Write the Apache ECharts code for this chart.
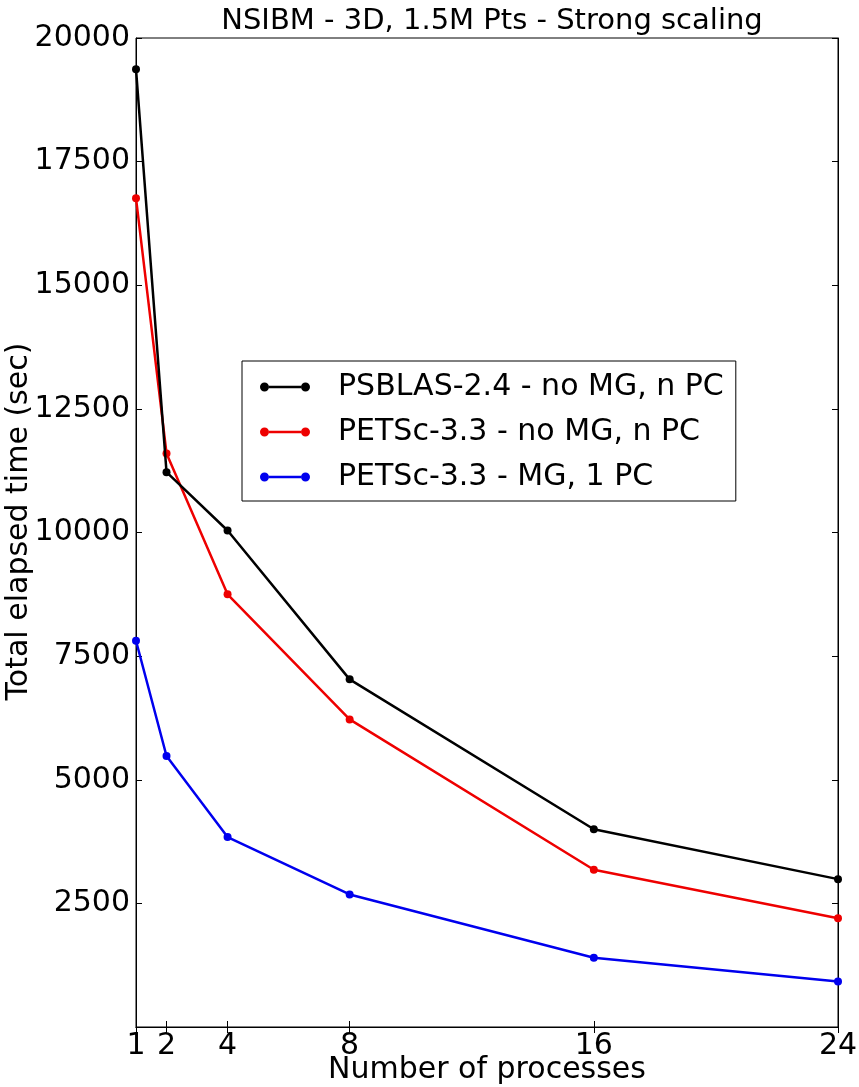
<!DOCTYPE html>
<html lang="en">
<head>
    <meta charset="UTF-8">
    <title>NSIBM strong scaling</title>
    <script src="https://cdn.jsdelivr.net/npm/echarts@6.0.0/dist/echarts.min.js"></script>
    <style>
        html, body { margin: 0; padding: 0; background: #fff; }
        #main { width: 859px; height: 1087px; }
    </style>
</head>
<body>
<div id="main"></div>
<script>
    // number of processes
    var procs = [1, 2, 4, 8, 16, 24];
    var tickLabels = [1, 2, 4, 8, 16, 24];

    // total elapsed time (sec)
    var psblasNoMG = [19370, 11220, 10040, 7030, 4000, 2990];
    var petscNoMG = [16760, 11600, 8750, 6220, 3180, 2200];
    var petscMG = [7810, 5480, 3840, 2680, 1400, 920];

    var names = ['PSBLAS-2.4 - no MG, n PC', 'PETSc-3.3 - no MG, n PC', 'PETSc-3.3 - MG, 1 PC'];
    var colors = ['#000000', '#ee0000', '#0000ee'];

    function pairs(ys) {
        var out = [];
        for (var i = 0; i < procs.length; i++) {
            out.push([procs[i], ys[i]]);
        }
        return out;
    }

    var font = 'DejaVu Sans';

    // legend icon: line with a dot at each end (pieces don't overlap)
    var legendIcon = 'path://M9,3.8L41,3.8L41,6.2L9,6.2Z' +
        'M0,5a4.5,4.5 0 1,0 9,0a4.5,4.5 0 1,0 -9,0Z' +
        'M41,5a4.5,4.5 0 1,0 9,0a4.5,4.5 0 1,0 -9,0Z';

    var chart = echarts.init(document.getElementById('main'));

    var serie = [];
    var allData = [psblasNoMG, petscNoMG, petscMG];
    for (var k = 0; k < allData.length; k++) {
        serie.push({
            name: names[k],
            type: 'line',
            data: pairs(allData[k]),
            symbol: 'circle',
            symbolSize: 8,
            showAllSymbol: true,
            lineStyle: {color: colors[k], width: 2.5},
            itemStyle: {color: colors[k]},
            animation: false,
            z: 3 - k
        });
    }

    var option = {
        backgroundColor: '#fff',
        animation: false,
        title: {
            text: 'NSIBM - 3D, 1.5M Pts - Strong scaling',
            left: 487,
            textAlign: 'center',
            top: 2,
            textStyle: {fontFamily: font, fontSize: 29, fontWeight: 'normal', color: '#000'}
        },
        grid: {
            left: 136,
            right: 21,
            top: 38,
            bottom: 60,
            outerBoundsMode: 'none',
            containLabel: false,
            show: true,
            borderColor: '#000',
            borderWidth: 1,
            backgroundColor: 'transparent'
        },
        legend: {
            orient: 'vertical',
            left: 242,
            top: 361,
            data: names,
            icon: legendIcon,
            itemWidth: 50,
            itemHeight: 9,
            itemGap: 11,
            padding: [9, 12, 7, 18],
            borderColor: '#000',
            borderWidth: 1,
            backgroundColor: '#fff',
            textStyle: {
                fontFamily: font, fontSize: 30, color: '#000',
                lineHeight: 34, padding: [0, 0, 0, 23]
            }
        },
        xAxis: [{
            type: 'value',
            min: 1,
            max: 24,
            name: 'Number of processes',
            nameLocation: 'middle',
            nameGap: 28,
            nameMoveOverlap: false,
            nameTextStyle: {fontFamily: font, fontSize: 30, color: '#000', verticalAlign: 'top'},
            axisLine: {show: true, lineStyle: {color: '#000', width: 1}},
            axisTick: {show: true, inside: true, length: 6, customValues: tickLabels, lineStyle: {color: '#000'}},
            axisLabel: {
                customValues: tickLabels,
                fontFamily: font, fontSize: 30, color: '#000', margin: 4
            },
            splitLine: {show: false}
        }, {
            type: 'value',
            position: 'top',
            min: 1,
            max: 24,
            axisLine: {show: true, lineStyle: {color: '#000', width: 1}},
            axisTick: {show: true, inside: true, length: 6, customValues: tickLabels, lineStyle: {color: '#000'}},
            axisLabel: {show: false},
            splitLine: {show: false}
        }],
        yAxis: [{
            type: 'value',
            min: 0,
            max: 20000,
            interval: 2500,
            name: 'Total elapsed time (sec)',
            nameLocation: 'middle',
            nameGap: 102,
            nameMoveOverlap: false,
            nameTextStyle: {fontFamily: font, fontSize: 30, color: '#000', padding: [0, 0, 0, 22]},
            axisLine: {show: true, lineStyle: {color: '#000', width: 1}},
            axisTick: {show: true, inside: true, length: 6, lineStyle: {color: '#000'}},
            axisLabel: {
                showMinLabel: false,
                formatter: function (v) { return String(v); },
                fontFamily: font, fontSize: 30, color: '#000', margin: 6
            },
            splitLine: {show: false}
        }, {
            type: 'value',
            position: 'right',
            min: 0,
            max: 20000,
            interval: 2500,
            axisLine: {show: true, lineStyle: {color: '#000', width: 1}},
            axisTick: {show: true, inside: true, length: 6, lineStyle: {color: '#000'}},
            axisLabel: {show: false},
            splitLine: {show: false}
        }],
        series: serie
    };

    chart.setOption(option);
</script>
</body>
</html>
